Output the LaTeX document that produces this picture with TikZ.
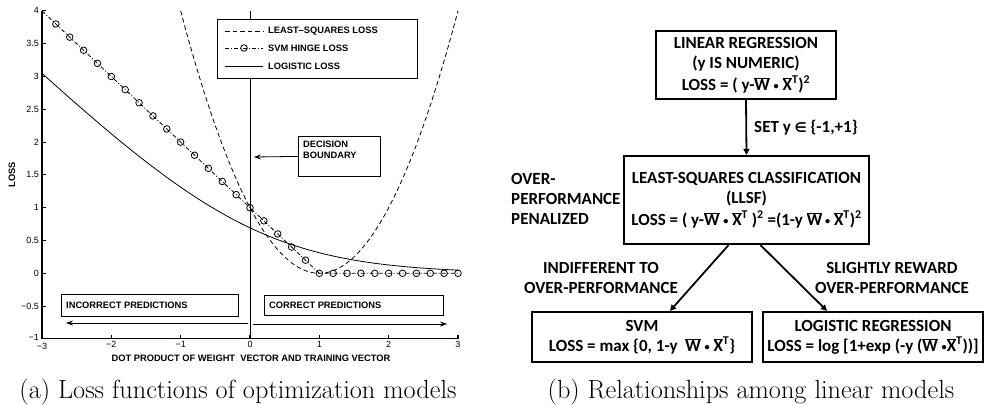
\documentclass[tikz,border=0pt]{standalone}
\usepackage{fontspec}
\usepackage{graphicx}
\usetikzlibrary{arrows.meta,calc}
\newfontfamily\hv{Liberation Sans}
\newfontfamily\cb{Carlito}
\newfontfamily\dvs{DejaVu Sans}
\newcommand{\ovl}[1]{$\overline{\hbox{#1}}$}
\newcommand{\mysqd}{\textsuperscript{2}}
\newcommand{\mytp}{\textsuperscript{T}}
\newcommand{\dotop}{\raisebox{0.12ex}{\scalebox{0.6}{•}}}
\begin{document}
\begin{tikzpicture}[x=1pt,y=-1pt,
  axisline/.style={line width=1.1pt},
  curve/.style={line width=0.8pt},
  lsq/.style={curve, dash pattern=on 4.5pt off 3pt},
  hng/.style={curve, dash pattern=on 4pt off 2pt on 1pt off 2pt},
  circmark/.style={line width=0.8pt},
  annbox/.style={draw, line width=0.8pt, fill=white, inner sep=0pt},
  pltxt/.style={font=\hv\bfseries\fontsize{9.3}{10.8}\selectfont, inner sep=0pt},
  ticktxt/.style={font=\hv\fontsize{9}{10}\selectfont, inner sep=1pt},
  thinarrow/.style={line width=0.8pt, -{Stealth[length=7pt,width=5pt,inset=2.5pt]}},
  mbox/.style={draw, line width=2.2pt, font=\cb\bfseries\fontsize{17}{20}\selectfont, align=center, inner sep=0pt},
  mtxt/.style={font=\cb\bfseries\fontsize{17}{20}\selectfont, inner sep=0pt},
  flow/.style={line width=1.8pt, -{Triangle[length=6pt,width=6pt]}},
  captxt/.style={font=\fontsize{26.3}{30}\selectfont, inner sep=0pt}
]
\useasboundingbox (0,0) rectangle (984,404);

% ---------------- loss curves ----------------
\begin{scope}[x=69.33pt, y=65.6pt, shift={(250pt,-273.3pt)}]
  % decision boundary
  \draw[line width=1pt] (0,4) -- (0,-1);
  % axes
  \draw[axisline] (-3,4) -- (-3,-1) -- (3,-1);
  \foreach \v [count=\i] in {-1,-0.5,0,0.5,1,1.5,2,2.5,3,3.5,4} {
    \draw[axisline] (-3,\v) -- ++(4pt,0);
  }
  \foreach \v/\t [count=\i] in {-0.5/{−0.5},0/0,0.5/0.5,1/1,1.5/1.5,2/2,2.5/2.5,3/3,3.5/3.5,4/4} {
    \node[ticktxt, anchor=east] (yt\i) at ([xshift=-2pt]-3,\v) {\t};
  }
  \node[ticktxt, anchor=east] (ytm) at ([xshift=-2pt,yshift=2pt]-3,-1) {−1};
  \foreach \z/\t [count=\i] in {-2/{−2},-1/{−1},0/0,1/1,2/2,3/3} {
    \draw[axisline] (\z,-1) -- ++(0,4pt);
    \node[ticktxt, anchor=north] (xt\i) at ([yshift=-1pt]\z,-1) {\t};
  }
  \node[ticktxt, anchor=north] (xtm) at ([yshift=-3pt]-3,-1) {−3};
  % least-squares loss
  \draw[lsq] plot[domain=-1:3, samples=80] (\x,{(1-\x)^2});
  % hinge loss
  \draw[hng] (-3,4) -- (1,0) -- (3,0);
  \foreach \i in {0,...,29} {
    \pgfmathsetmacro{\z}{-2.8+0.2*\i}
    \pgfmathsetmacro{\h}{max(0,1-\z)}
    \draw[circmark] (\z,\h) circle[radius=3.3pt];
  }
  % logistic loss
  \draw[curve] plot[domain=-3:3, samples=100] (\x,{ln(1+exp(-\x))});
\end{scope}

% legend
\node[annbox, minimum width=200pt, minimum height=59pt, anchor=north west] (leg) at (217,19) {};
\draw[lsq] (225,31) -- (263,31);
\node[pltxt, anchor=west] (legA) at (268,31) {LEAST–SQUARES LOSS};
\draw[hng] (225,48) -- (263,48);
\draw[circmark] (244,48) circle[radius=3.3pt];
\node[pltxt, anchor=west] (legB) at (268,48) {SVM HINGE LOSS};
\draw[curve] (225,66) -- (263,66);
\node[pltxt, anchor=west] (legC) at (268,66) {LOGISTIC LOSS};

% decision boundary annotation
\node[annbox, minimum width=82pt, minimum height=40pt, anchor=north west] (dec) at (298,136) {};
\node[pltxt, anchor=north west, align=left] (decT) at ([xshift=5pt,yshift=-5pt]dec.north west) {DECISION\\BOUNDARY};
\coordinate (dectip) at (254,157);
\draw[thinarrow] (dec.west) -- (dectip);

% prediction regions
\node[annbox, minimum width=177pt, minimum height=22pt, anchor=north west] (inc) at (61,294) {};
\node[pltxt, anchor=west] (incT) at ([xshift=5pt]inc.west) {INCORRECT PREDICTIONS};
\node[annbox, minimum width=179pt, minimum height=20pt, anchor=north west] (cor) at (264,295) {};
\node[pltxt, anchor=west] (corT) at ([xshift=5pt]cor.west) {CORRECT PREDICTIONS};
\coordinate (incS) at (248,323);
\coordinate (incE) at (66,323);
\coordinate (corS) at (253,324);
\coordinate (corE) at (447,324);
\draw[thinarrow] (incS) -- (incE);
\draw[thinarrow] (corS) -- (corE);

% axis titles
\node[pltxt, rotate=90] (ylab) at (12,175) {LOSS};
\node[pltxt] (xlab) at (251,358) {DOT PRODUCT OF WEIGHT\ \ VECTOR AND TRAINING VECTOR};

% ---------------- model hierarchy ----------------
\node[mbox, minimum width=180pt, minimum height=68pt] (linreg) at (746,65)
  {LINEAR REGRESSION\\(y IS NUMERIC)\\[2pt]LOSS = ( y-\ovl{W} \dotop\ \ovl{X}\mytp)\mysqd};
\node[mbox, minimum width=245pt, minimum height=88pt] (llsf) at (746.5,200)
  {LEAST-SQUARES CLASSIFICATION\\(LLSF)\\[2pt]LOSS = ( y-\ovl{W} \dotop\ \ovl{X}\mytp\ )\mysqd\ =(1-y \ovl{W}\,\dotop\ \ovl{X}\mytp)\mysqd};
\node[mbox, minimum width=220pt, minimum height=50pt] (svm) at (642,337)
  {SVM\\LOSS = max \{0, 1-y\ \ \ovl{W} \dotop\ \ovl{X}\mytp\}};
\node[mbox, minimum width=220pt, minimum height=50pt] (logreg) at (873,337)
  {LOGISTIC REGRESSION\\LOSS = log [1+exp (-y (\ovl{W} \dotop\ovl{X}\mytp))]};

\draw[flow] (linreg.south) -- (llsf.north);
\node[mtxt, anchor=west] (setlab) at (754,128) {SET y {\dvs\fontsize{13.5}{14}\selectfont ∈} \{-1,+1\}};
\draw[flow] ($(llsf.south)+(-18,0)$) -- ($(svm.north)+(28,0)$);
\draw[flow] ($(llsf.south)+(14,0)$) -- ($(logreg.north)+(-46,0)$);

\node[mtxt, anchor=west, align=left] (pen) at (511,199) {OVER-\\PERFORMANCE\\PENALIZED};
\node[mtxt, align=center] (indiff) at (601,278) {INDIFFERENT TO\\OVER-PERFORMANCE};
\node[mtxt, align=center] (reward) at (892,278) {SLIGHTLY REWARD\\OVER-PERFORMANCE};

% ---------------- captions ----------------
\node[captxt, anchor=base] (capa) at (238,398) {(a) Loss functions of optimization models};
\node[captxt, anchor=base] (capb) at (751,398) {(b) Relationships among linear models};
\end{tikzpicture}
\end{document}
